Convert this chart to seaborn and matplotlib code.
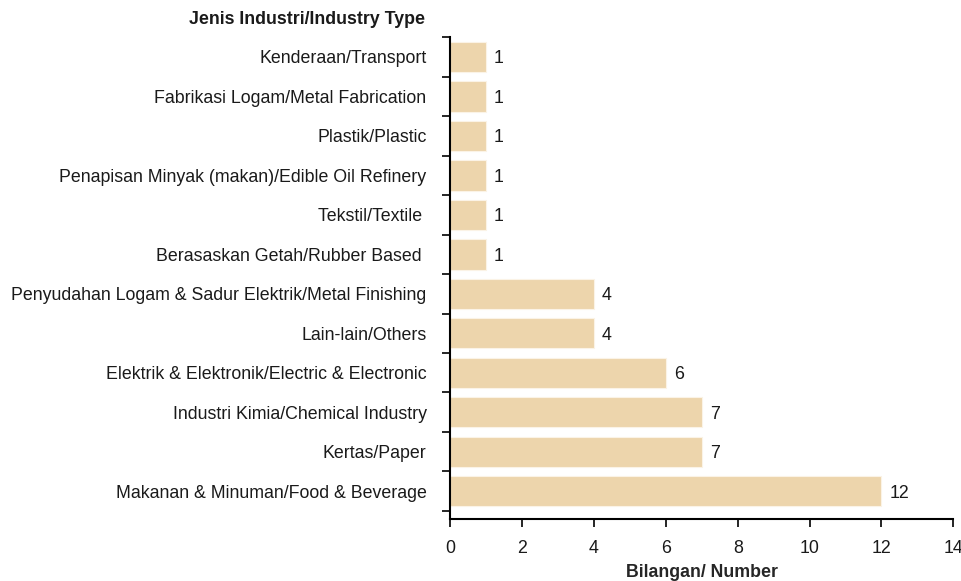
import numpy as np
import pandas as pd
import seaborn as sns
import matplotlib.pyplot as plt
import matplotlib.ticker as ticker

industries = [
    'Kenderaan/Transport',
    'Fabrikasi Logam/Metal Fabrication',
    'Plastik/Plastic',
    'Penapisan Minyak (makan)/Edible Oil Refinery',
    'Tekstil/Textile ',
    'Berasaskan Getah/Rubber Based ',
    'Penyudahan Logam & Sadur Elektrik/Metal Finishing',
    'Lain-lain/Others',
    'Elektrik & Elektronik/Electric & Electronic',
    'Industri Kimia/Chemical Industry',
    'Kertas/Paper',
    'Makanan & Minuman/Food & Beverage',
]
counts = [1, 1, 1, 1, 1, 1, 4, 4, 6, 7, 7, 12]
x_ticks = [0, 2, 4, 6, 8, 10, 12, 14]

df = pd.DataFrame({'industry': industries, 'count': counts})

sns.set_style('white')
plt.rcParams['font.family'] = ['Liberation Sans', 'DejaVu Sans']

fs = 12.8
txt = '#1a1a1a'

fig = plt.figure(figsize=(9.62, 5.81), dpi=100)
ax = fig.add_axes([0.468, 0.107, 0.523, 0.829])

sns.barplot(df, x='count', y='industry', orient='h', color='#EDD5AC',
            saturation=1, width=0.77, edgecolor='#FBF3E6', linewidth=0.8, ax=ax)

for i, v in enumerate(counts):
    ax.text(v + 0.22, i, str(v), va='center_baseline', ha='left', fontsize=fs, color=txt)

ax.set_xlim(0, 14)
ax.set_xticks(x_ticks)
ax.set_ylim(11.7, -0.5)
ax.yaxis.set_minor_locator(ticker.FixedLocator(np.arange(-0.5, 12, 1.0)))
ax.tick_params(axis='y', which='major', length=0, pad=17, labelsize=fs, labelcolor=txt)
ax.tick_params(axis='y', which='minor', length=6, width=1.2, direction='out', color='black', left=True)
ax.tick_params(axis='x', length=6, width=1.2, direction='out', color='black', bottom=True,
               pad=9, labelsize=fs, labelcolor=txt)

for s in ['top', 'right']:
    ax.spines[s].set_visible(False)
for s in ['left', 'bottom']:
    ax.spines[s].set_color('black')
    ax.spines[s].set_linewidth(1.5)

ax.set_ylabel('')
ax.set_xlabel('Bilangan/ Number', fontsize=fs, fontweight='bold', labelpad=5)
fig.text(0.442, 0.966, 'Jenis Industri/Industry Type', ha='right', va='center',
         fontsize=fs, fontweight='bold', color=txt)

plt.savefig('out.png', dpi=100)
plt.close()
